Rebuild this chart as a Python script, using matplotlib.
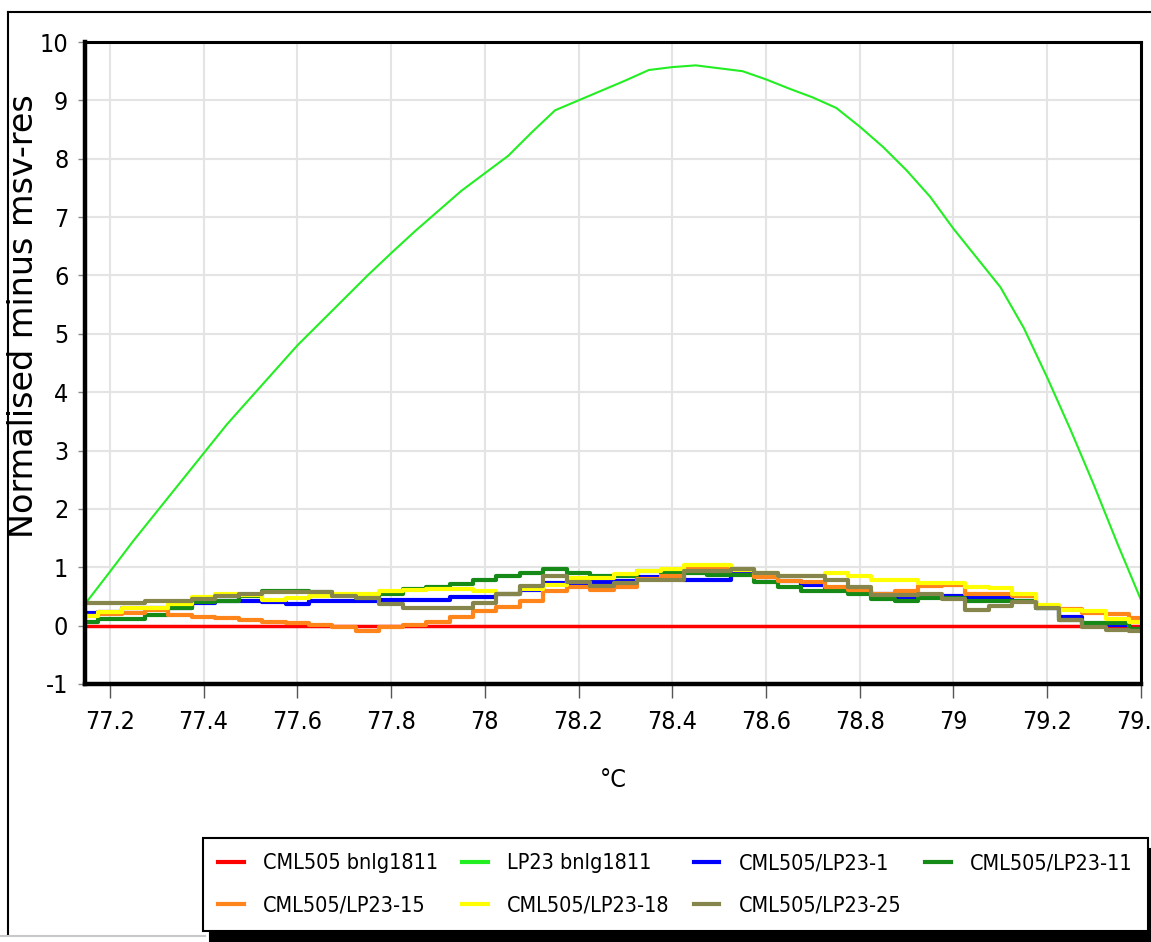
import matplotlib
matplotlib.use("Agg")
import matplotlib.pyplot as plt
from matplotlib import font_manager
from matplotlib.lines import Line2D

# narrow face for the tick/legend text: condensed DejaVu if installed, else Arial-like
fonts = font_manager.fontManager.ttflist
has_condensed = any(f.name == "DejaVu Sans" and f.stretch == "condensed" for f in fonts)
if has_condensed:
    narrow = font_manager.FontProperties(family="DejaVu Sans", stretch="condensed")
else:
    narrow = font_manager.FontProperties(family="Liberation Sans")

# temperature readings (degC), one every 0.05
temps = [77.15, 77.20, 77.25, 77.30, 77.35, 77.40, 77.45, 77.50, 77.55, 77.60,
         77.65, 77.70, 77.75, 77.80, 77.85, 77.90, 77.95, 78.00, 78.05, 78.10,
         78.15, 78.20, 78.25, 78.30, 78.35, 78.40, 78.45, 78.50, 78.55, 78.60,
         78.65, 78.70, 78.75, 78.80, 78.85, 78.90, 78.95, 79.00, 79.05, 79.10,
         79.15, 79.20, 79.25, 79.30, 79.35, 79.40]

cml505_ref = [0.0] * len(temps)
lp23_ref = [0.40, 0.92, 1.45, 1.95, 2.45, 2.95, 3.45, 3.90, 4.35, 4.80,
            5.20, 5.60, 6.00, 6.38, 6.75, 7.10, 7.45, 7.75, 8.05, 8.45,
            8.83, 9.00, 9.17, 9.34, 9.52, 9.57, 9.60, 9.55, 9.50, 9.36,
            9.20, 9.05, 8.87, 8.55, 8.20, 7.80, 7.35, 6.80, 6.30, 5.80,
            5.10, 4.25, 3.35, 2.40, 1.40, 0.44]
lp23_1 = [0.22, 0.24, 0.31, 0.31, 0.30, 0.38, 0.43, 0.43, 0.40, 0.37,
          0.42, 0.42, 0.42, 0.44, 0.44, 0.44, 0.49, 0.49, 0.55, 0.61,
          0.73, 0.73, 0.75, 0.77, 0.83, 0.84, 0.78, 0.78, 0.91, 0.84,
          0.77, 0.70, 0.65, 0.57, 0.55, 0.47, 0.50, 0.50, 0.47, 0.47,
          0.42, 0.30, 0.15, 0.03, 0.01, -0.05]
lp23_11 = [0.07, 0.12, 0.12, 0.18, 0.30, 0.40, 0.43, 0.50, 0.60, 0.60,
           0.57, 0.52, 0.47, 0.55, 0.62, 0.67, 0.72, 0.78, 0.85, 0.91,
           0.97, 0.91, 0.85, 0.85, 0.93, 0.90, 0.90, 0.86, 0.86, 0.75,
           0.67, 0.60, 0.60, 0.54, 0.46, 0.42, 0.47, 0.47, 0.42, 0.42,
           0.42, 0.30, 0.10, 0.05, 0.04, -0.05]
lp23_15 = [0.17, 0.20, 0.22, 0.27, 0.18, 0.15, 0.13, 0.10, 0.06, 0.04,
           0.01, -0.03, -0.10, -0.03, 0.01, 0.07, 0.15, 0.25, 0.32, 0.42,
           0.60, 0.67, 0.61, 0.67, 0.80, 0.85, 0.97, 1.00, 0.95, 0.83,
           0.76, 0.74, 0.67, 0.61, 0.55, 0.60, 0.68, 0.70, 0.55, 0.55,
           0.50, 0.33, 0.28, 0.22, 0.20, 0.13]
lp23_18 = [0.17, 0.24, 0.30, 0.30, 0.37, 0.49, 0.55, 0.52, 0.44, 0.47,
           0.50, 0.55, 0.55, 0.60, 0.61, 0.62, 0.63, 0.60, 0.55, 0.62,
           0.70, 0.81, 0.81, 0.88, 0.93, 0.97, 1.04, 1.04, 0.95, 0.90,
           0.85, 0.85, 0.91, 0.85, 0.79, 0.79, 0.73, 0.73, 0.67, 0.64,
           0.55, 0.35, 0.26, 0.25, 0.12, 0.07]
lp23_25 = [0.38, 0.38, 0.38, 0.43, 0.43, 0.45, 0.50, 0.55, 0.57, 0.57,
           0.57, 0.50, 0.47, 0.37, 0.30, 0.30, 0.30, 0.38, 0.55, 0.68,
           0.85, 0.75, 0.68, 0.73, 0.79, 0.79, 0.93, 0.93, 0.97, 0.91,
           0.85, 0.85, 0.79, 0.67, 0.53, 0.53, 0.55, 0.45, 0.27, 0.33,
           0.41, 0.30, 0.10, -0.03, -0.08, -0.10]

x_ticks = [77.2, 77.4, 77.6, 77.8, 78.0, 78.2, 78.4, 78.6, 78.8, 79.0, 79.2, 79.4]
x_labels = ["77.2", "77.4", "77.6", "77.8", "78", "78.2", "78.4", "78.6",
            "78.8", "79", "79.2", "79.4"]
y_ticks = list(range(-1, 11))
y_labels = [str(v) for v in y_ticks]

fig = plt.figure(figsize=(11.51, 9.42), dpi=100)
ax = fig.add_axes([0.0738, 0.2739, 0.9175, 0.6815])

ax.plot(temps, cml505_ref, color="#ff0000", lw=2.5, label="CML505 bnlg1811")
ax.plot(temps, lp23_ref, color="#22ee22", lw=1.5, label="LP23 bnlg1811")
ax.step(temps, lp23_1, where="mid", color="#0000ff", lw=3, label="CML505/LP23-1")
ax.step(temps, lp23_11, where="mid", color="#168a16", lw=3, label="CML505/LP23-11")
ax.step(temps, lp23_15, where="mid", color="#ff8419", lw=3, label="CML505/LP23-15")
ax.step(temps, lp23_18, where="mid", color="#ffff00", lw=3, label="CML505/LP23-18")
ax.step(temps, lp23_25, where="mid", color="#86864c", lw=3, label="CML505/LP23-25")

ax.set_xlim(77.147, 79.4)
ax.set_ylim(-1, 10)
ax.set_xticks(x_ticks)
ax.set_xticklabels(x_labels, fontproperties=narrow, fontsize=18)
ax.set_yticks(y_ticks)
ax.set_yticklabels(y_labels, fontproperties=narrow, fontsize=18)
ax.grid(True, color="#e4e4e4", lw=1.5)
ax.set_axisbelow(True)

for side in ["left", "bottom"]:
    ax.spines[side].set_linewidth(3.2)
for side in ["top", "right"]:
    ax.spines[side].set_linewidth(2.2)

ax.tick_params(axis="x", length=10, width=1, color="#555555", pad=9)
ax.tick_params(axis="y", length=5, width=1, color="#888888", pad=7)

ax.set_xlabel("°C", fontproperties=narrow, fontsize=18, labelpad=24)
ax.set_ylabel("Normalised minus msv-res", fontsize=24)
ax.yaxis.set_label_coords(-0.043, 0.573)

# legend laid out row by row: reorder for matplotlib's column filling
handles, labels = ax.get_legend_handles_labels()
order = [0, 4, 1, 5, 2, 6, 3]
leg_font = narrow.copy()
leg_font.set_size(15.5)
leg = fig.legend([handles[i] for i in order], [labels[i] for i in order],
                 ncol=4, loc="upper left", bbox_to_anchor=(203 / 1151, 1 - 838 / 942),
                 frameon=True, fancybox=False, edgecolor="black", prop=leg_font,
                 handlelength=1.2, handletextpad=0.9, columnspacing=1.1,
                 labelspacing=1.05, borderpad=0.7, borderaxespad=0,
                 shadow={"color": "black", "alpha": 1, "ox": 5, "oy": -8})
leg.get_frame().set_linewidth(1.5)
for h in leg.legend_handles:
    h.set_linewidth(3)

# outer frame
fig.add_artist(Line2D([8 / 1151, 8 / 1151], [1 - 935 / 942, 1 - 12 / 942],
                      transform=fig.transFigure, color="black", lw=1.5))
fig.add_artist(Line2D([8 / 1151, 1.0], [1 - 12 / 942, 1 - 12 / 942],
                      transform=fig.transFigure, color="black", lw=1.5))
fig.add_artist(Line2D([0, 205 / 1151], [1 - 936 / 942, 1 - 936 / 942],
                      transform=fig.transFigure, color="#c8c8c8", lw=1.5))

fig.savefig("out.png", dpi=100)
